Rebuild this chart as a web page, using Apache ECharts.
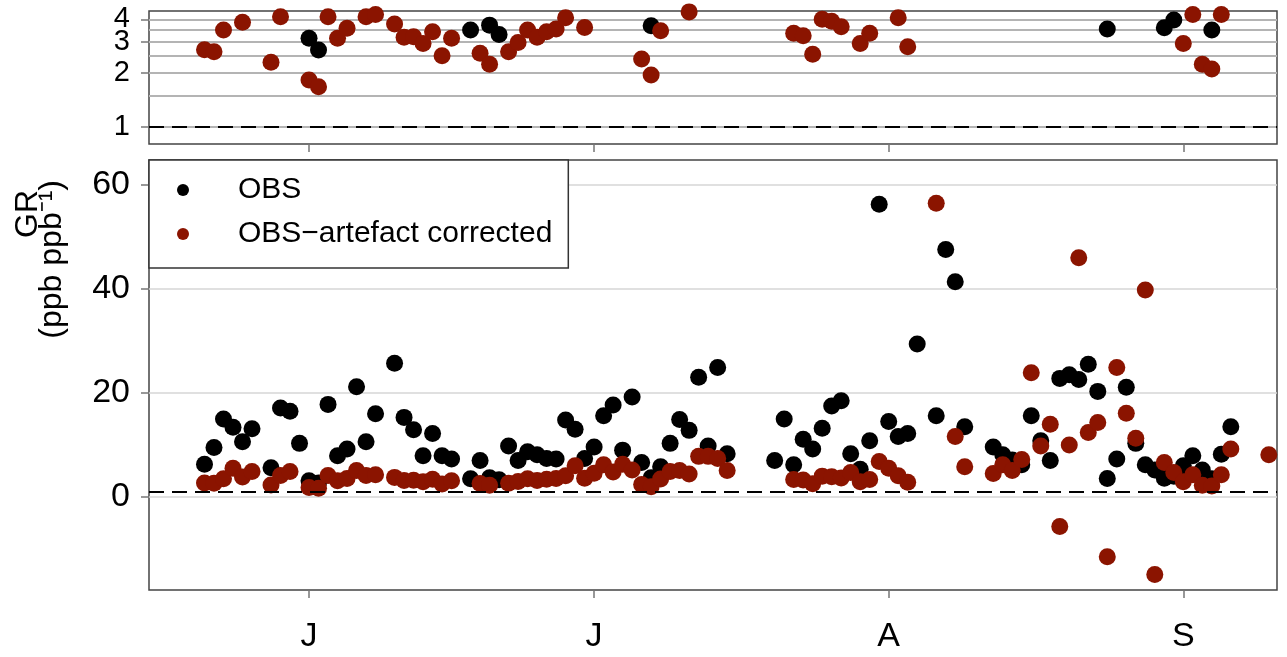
<!DOCTYPE html>
<html>
<head>
<meta charset="utf-8">
<script src="https://cdn.jsdelivr.net/npm/echarts@6/dist/echarts.min.js"></script>
<style>
  html, body { margin: 0; padding: 0; background: #fff; }
  #chart { width: 1287px; height: 657px; }
</style>
</head>
<body>
<div id="chart"></div>
<script>
// days since 1 June
const days = [
  -11, -10, -9, -8, -7, -6, -4, -3, -2, -1, 0, 1, 2, 3, 4, 5, 6, 7,
  9, 10, 11, 12, 13, 14, 15,
  17, 18, 19, 20, 21, 22, 23, 24, 25, 26, 27, 28, 29, 30, 31, 32, 33, 34, 35, 36, 37, 38, 39, 40, 41, 42, 43, 44,
  49, 50, 51, 52, 53, 54, 55, 56, 57, 58, 59, 60, 61, 62, 63, 64,
  66, 67, 68, 69,
  72, 73, 74, 75, 76, 77, 78, 79, 80, 81, 82, 83, 84, 85, 86, 87, 88, 89, 90, 91, 92, 93, 94, 95, 96, 97,
  101
]
const obsValues = [
  6.3, 9.5, 15.0, 13.4, 10.6, 13.1, 5.6, 17.1, 16.5, 10.3, 3.13, 2.69, 17.8, 7.9, 9.2, 21.2, 10.6, 16.0,
  25.7, 15.3, 12.9, 7.9, 12.2, 7.9, 7.3,
  3.48, 7.0, 3.71, 3.29, 9.8, 7.0, 8.7, 8.1, 7.4, 7.3, 14.8, 13.0, 7.4, 9.6, 15.6, 17.7, 9.0, 19.2, 6.6, 3.68, 5.8, 10.3, 14.9, 12.8, 23.0, 9.8, 24.9, 8.3,
  7.0, 15.0, 6.2, 11.1, 9.2, 13.2, 17.5, 18.5, 8.3, 5.3, 10.8, 56.3, 14.5, 11.6, 12.2, 29.4,
  15.6, 47.6, 41.4, 13.5,
  9.6, 8.1, 7.1, 6.2, 15.6, 10.8, 7.0, 22.8, 23.5, 22.6, 25.5, 20.3, 3.53, 7.3, 21.1, 10.3, 6.2, 5.2, 3.59, 3.96, 6.0, 7.9, 5.2, 3.48, 8.2, 13.5,
  null
]
const corrValues = [
  2.7, 2.63, 3.48, 5.5, 3.85, 4.9, 2.3, 4.13, 4.9, null, 1.83, 1.68, 4.13, 3.13, 3.56, 5.1, 4.13, 4.26,
  3.76, 3.17, 3.19, 2.93, 3.41, 2.5, 3.13,
  null, 2.58, 2.24, null, 2.63, 2.97, 3.48, 3.17, 3.41, 3.53, 4.08, 6.0, 3.6, 4.55, 6.2, 4.8, 6.3, 5.2, 2.4, 1.95, 3.45, 4.9, 5.1, 4.4, 7.8, 7.8, 7.4, 5.1,
  null, null, 3.34, 3.24, 2.55, 4.0, 3.9, 3.63, 4.7, 2.93, 3.34, 6.8, 5.5, 4.08, 2.81, null,
  56.5, null, 11.6, 5.8,
  4.5, 6.2, 5.1, 7.2, 23.9, 9.8, 14.0, -5.7, 10.0, 46.0, 12.4, 14.3, -11.5, 24.9, 16.1, 11.3, 39.8, -14.9, 6.6, 4.7, 2.93, 4.26, 2.24, 2.11, 4.26, 9.2,
  8.1
]

const monthTicks = [0, 30, 61, 92]
const monthLabels = ['J', 'J', 'A', 'S']
const topTicksLow = [1, 2, 3]
const topTicksHigh = [4]
const topGrid = [1, 1.5, 2, 2.5, 3, 3.5, 4]
const bottomTicks = [0, 20, 40, 60]
const refLine = 1

const OBS = 'OBS'
const CORR = 'OBS\u2212artefact corrected'
const BLACK = '#000000'
const RED = '#8b1400'
const FONT = 'Liberation Sans'

const pairs = (vals, keep) => days
  .map((d, i) => [d, vals[i]])
  .filter(p => p[1] != null && keep(p[1]))

const dashed = {
  silent: true,
  symbol: 'none',
  animation: false,
  label: { show: false },
  lineStyle: { color: '#000', type: [15, 8], width: 2 },
  data: [{ yAxis: refLine }]
}

const tickStyle = { color: '#777', width: 1.5 }

const xAxisBase = {
  type: 'value',
  min: -16.84,
  max: 101.86,
  axisLine: { show: false, onZero: false },
  axisTick: { show: true, customValues: monthTicks, length: 8, lineStyle: tickStyle },
  splitLine: { show: false }
}

// top panel log axis, one copy per group of labels so they are not hidden for overlapping
const topLabelAxis = (ticks) => ({
  type: 'log',
  gridIndex: 0,
  position: 'left',
  min: 0.803,
  max: 4.45,
  axisLine: { show: false, onZero: false },
  axisTick: { show: true, customValues: ticks, length: 8, lineStyle: tickStyle },
  axisLabel: { customValues: ticks, margin: 19, fontFamily: FONT, fontSize: 29, color: '#000' },
  splitLine: { show: false }
})

const chart = echarts.init(document.getElementById('chart'))

chart.setOption({
  animation: false,
  grid: [
    { left: 149, right: 10, top: 11, height: 133, show: true, borderColor: '#444', borderWidth: 1.5, backgroundColor: 'transparent' },
    { left: 149, right: 10, top: 160, height: 430, show: true, borderColor: '#444', borderWidth: 1.5, backgroundColor: 'transparent' }
  ],
  legend: {
    data: [OBS, CORR],
    orient: 'vertical',
    left: 149,
    top: 160,
    padding: [15, 16, 19, 28],
    itemGap: 14,
    itemWidth: 12,
    itemHeight: 12,
    icon: 'circle',
    backgroundColor: '#fff',
    borderColor: '#333',
    borderWidth: 1.5,
    borderRadius: 0,
    textStyle: { fontFamily: FONT, fontSize: 30, color: '#000', lineHeight: 30, padding: [0, 0, 0, 44] }
  },
  xAxis: [
    { ...xAxisBase, gridIndex: 0, axisLabel: { show: false } },
    {
      ...xAxisBase,
      gridIndex: 1,
      axisLabel: {
        show: true,
        customValues: monthTicks,
        margin: 30,
        fontFamily: FONT,
        fontSize: 34,
        color: '#000',
        formatter: v => monthLabels[monthTicks.indexOf(v)]
      }
    }
  ],
  yAxis: [
    topLabelAxis(topTicksLow),
    {
      type: 'log',
      gridIndex: 0,
      position: 'right',
      min: 0.803,
      max: 4.45,
      axisLine: { show: false, onZero: false },
      axisTick: { show: false, customValues: topGrid },
      axisLabel: { show: false },
      splitLine: { show: true, lineStyle: { color: '#b4b4b4', width: 2 } }
    },
    {
      type: 'value',
      gridIndex: 1,
      position: 'left',
      min: -17.9,
      max: 64.8,
      axisLine: { show: false, onZero: false },
      axisTick: { show: true, customValues: bottomTicks, length: 8, lineStyle: tickStyle },
      axisLabel: { customValues: bottomTicks, margin: 19, fontFamily: FONT, fontSize: 34, color: '#000' },
      splitLine: { show: true, lineStyle: { color: '#d6d6d6', width: 1.5 } }
    },
    topLabelAxis(topTicksHigh)
  ],
  series: [
    {
      name: OBS, type: 'scatter', xAxisIndex: 0, yAxisIndex: 0, clip: true,
      symbolSize: 17, itemStyle: { color: BLACK, opacity: 1 },
      data: pairs(obsValues, v => v > 0),
      markLine: dashed
    },
    {
      name: CORR, type: 'scatter', xAxisIndex: 0, yAxisIndex: 0, clip: true,
      symbolSize: 17, itemStyle: { color: RED, opacity: 1 },
      data: pairs(corrValues, v => v > 0)
    },
    {
      name: OBS, type: 'scatter', xAxisIndex: 1, yAxisIndex: 2, clip: true,
      symbolSize: 17, itemStyle: { color: BLACK, opacity: 1 },
      data: pairs(obsValues, () => true),
      markLine: dashed
    },
    {
      name: CORR, type: 'scatter', xAxisIndex: 1, yAxisIndex: 2, clip: true,
      symbolSize: 17, itemStyle: { color: RED, opacity: 1 },
      data: pairs(corrValues, () => true)
    }
  ],
  graphic: [
    {
      type: 'text', x: 28, y: 190, rotation: Math.PI / 2,
      style: { text: 'GR', fontFamily: FONT, fontSize: 32, fill: '#000', textAlign: 'right', textVerticalAlign: 'middle' }
    },
    {
      type: 'text', x: 52, y: 180, rotation: Math.PI / 2,
      style: { text: '(ppb ppb\u207B\u00B9)', fontFamily: FONT, fontSize: 32, fill: '#000', textAlign: 'right', textVerticalAlign: 'middle' }
    }
  ]
})
</script>
</body>
</html>
